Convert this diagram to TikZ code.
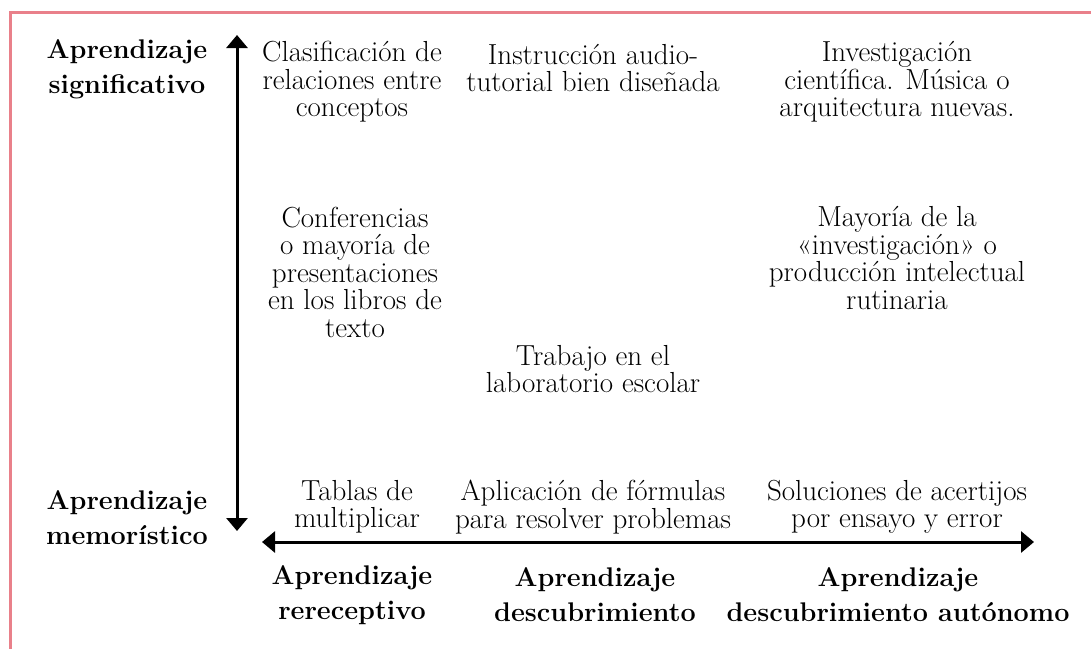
\documentclass[tikz,border=0pt]{standalone}
\usepackage{fontspec}
\usetikzlibrary{arrows.meta, positioning}
\definecolor{framepink}{RGB}{233,128,138}

\begin{document}
\begin{tikzpicture}[x=1pt, y=-1pt,
  txt/.style={align=center, inner sep=0pt, font=\fontsize{29}{27.5}\selectfont},
  axislabel/.style={align=center, inner sep=0pt, font=\fontsize{27}{35}\selectfont\bfseries},
  axis/.style={line width=3pt, {Triangle[width=21pt,length=13pt]}-{Triangle[width=21pt,length=13pt]}},
  frame/.style={draw=framepink, line width=3pt}]

  \useasboundingbox (0,0) rectangle (1091,648);
  \draw[frame] (10,650) -- (10,12) -- (1093,12);

  % axes
  \coordinate (ytop) at (237,35);
  \coordinate (ybot) at (237,531);
  \coordinate (xleft) at (262,542);
  \coordinate (xright) at (1034,542);
  \draw[axis] (ytop) -- (ybot);
  \draw[axis] (xleft) -- (xright);

  % axis labels
  \node[axislabel] (signif) at (127,69) {Aprendizaje\\significativo};
  \node[axislabel] (memor) at (127,518) {Aprendizaje\\memorístico};
  \node[axislabel] (recept) at (352,595) {Aprendizaje\\rereceptivo};
  \node[axislabel] (descub) at (595,595) {Aprendizaje\\descubrimiento};
  \node[axislabel] (autonom) at (898,595) {Aprendizaje\\descubrimiento autónomo};

  % examples
  \node[txt] (clasif) at (352,82) {Clasificación de\\relaciones entre\\conceptos};
  \node[txt] (instruc) at (593,68) {Instrucción audio-\\tutorial bien diseñada};
  \node[txt] (investig) at (897,82) {Investigación\\científica. Música o\\arquitectura nuevas.};
  \node[txt] (conferen) at (355,272) {Conferencias\\o mayoría de\\presentaciones\\en los libros de\\texto};
  \node[txt] (mayoria) at (897,258) {Mayoría de la\\«investigación» o\\producción intelectual\\rutinaria};
  \node[txt] (trabajo) at (593,369) {Trabajo en el\\laboratorio escolar};
  \node[txt] (tablas) at (357,507) {Tablas de\\multiplicar};
  \node[txt] (aplicac) at (593,507) {Aplicación de fórmulas\\para resolver problemas};
  \node[txt] (soluc) at (897,507) {Soluciones de acertijos\\por ensayo y error};
\end{tikzpicture}
\end{document}
